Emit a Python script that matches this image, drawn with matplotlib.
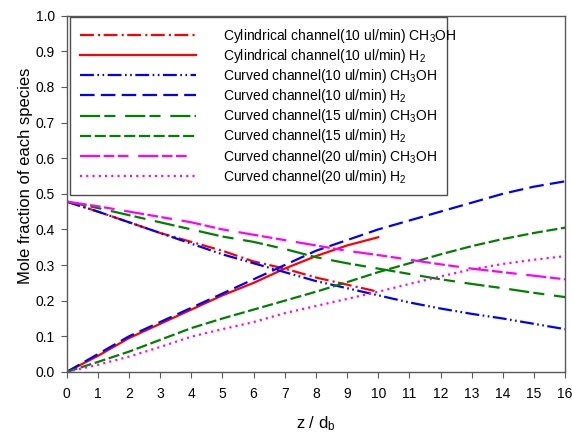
import matplotlib
matplotlib.use('Agg')
import matplotlib.pyplot as plt
from matplotlib.patches import Rectangle
import numpy as np

plt.rcParams['font.family'] = ['Liberation Sans', 'DejaVu Sans']
plt.rcParams['mathtext.default'] = 'regular'
plt.rcParams['lines.scale_dashes'] = False

# axial position z/d_b
z_cyl = [0, 1, 2, 3, 4, 5, 6, 7, 8, 9, 10]
z_cur = [0, 1, 2, 3, 4, 5, 6, 7, 8, 9, 10, 11, 12, 13, 14, 15, 16]

# cylindrical channel, 10 ul/min
cyl10_ch3oh = [0.478, 0.45, 0.42, 0.39, 0.365, 0.34, 0.31, 0.29, 0.265, 0.245, 0.225]
cyl10_h2 = [0.0, 0.045, 0.095, 0.135, 0.175, 0.215, 0.25, 0.29, 0.325, 0.355, 0.378]

# curved channel, 10 / 15 / 20 ul/min
cur10_ch3oh = [0.478, 0.45, 0.42, 0.39, 0.36, 0.33, 0.305, 0.28, 0.255, 0.235,
               0.215, 0.195, 0.178, 0.163, 0.15, 0.135, 0.12]
cur10_h2 = [0.0, 0.05, 0.10, 0.14, 0.18, 0.22, 0.26, 0.30, 0.34, 0.37,
            0.40, 0.425, 0.45, 0.475, 0.50, 0.52, 0.535]
cur15_ch3oh = [0.478, 0.46, 0.44, 0.42, 0.40, 0.38, 0.365, 0.345, 0.322, 0.305,
               0.29, 0.275, 0.26, 0.247, 0.235, 0.222, 0.21]
cur15_h2 = [0.0, 0.028, 0.057, 0.09, 0.123, 0.15, 0.175, 0.2, 0.225, 0.252,
            0.28, 0.305, 0.33, 0.353, 0.373, 0.39, 0.405]
cur20_ch3oh = [0.478, 0.465, 0.45, 0.435, 0.42, 0.40, 0.385, 0.37, 0.355, 0.34,
               0.328, 0.315, 0.302, 0.29, 0.28, 0.27, 0.26]
cur20_h2 = [0.0, 0.02, 0.043, 0.07, 0.099, 0.12, 0.14, 0.165, 0.185, 0.205,
            0.225, 0.247, 0.268, 0.288, 0.303, 0.315, 0.325]

fig = plt.figure(figsize=(5.72, 4.34), dpi=100)
ax = fig.add_axes([0.1166, 0.143, 0.8714, 0.821])

lw = 1.6
ax.plot(z_cyl, cyl10_ch3oh, color='red', lw=lw, dashes=(10, 3, 1.5, 2.5),
        label='Cylindrical channel(10 ul/min) CH$_3$OH')
ax.plot(z_cyl, cyl10_h2, color='red', lw=lw, ls='-',
        label='Cylindrical channel(10 ul/min) H$_2$')
ax.plot(z_cur, cur10_ch3oh, color='blue', lw=lw, dashes=(10, 2.5, 1.2, 2.5, 1.2, 2.5),
        label='Curved channel(10 ul/min) CH$_3$OH')
ax.plot(z_cur, cur10_h2, color='blue', lw=lw, dashes=(10.5, 4.5),
        label='Curved channel(10 ul/min) H$_2$')
ax.plot(z_cur, cur15_ch3oh, color='green', lw=lw, dashes=(14.5, 3, 8, 7),
        label='Curved channel(15 ul/min) CH$_3$OH')
ax.plot(z_cur, cur15_h2, color='green', lw=lw, dashes=(8, 2.6),
        label='Curved channel(15 ul/min) H$_2$')
ax.plot(z_cur, cur20_ch3oh, color='magenta', lw=lw, dashes=(14.5, 2.5, 7.7, 2.5, 7.7, 7),
        label='Curved channel(20 ul/min) CH$_3$OH')
ax.plot(z_cur, cur20_h2, color='magenta', lw=lw, dashes=(1.5, 3),
        label='Curved channel(20 ul/min) H$_2$')

ax.set_xlim(0, 16)
ax.set_ylim(0, 1.0)
ax.set_xticks(np.arange(0, 17, 1))
ax.set_yticks(np.arange(0, 1.01, 0.1))
ax.set_yticklabels(['%.1f' % v for v in np.arange(0, 1.01, 0.1)])
ax.tick_params(direction='out', length=4, width=0.8, color='0.35', labelsize=10)
ax.tick_params(axis='x', pad=6.5)
ax.tick_params(axis='y', pad=4.5)
for s in ax.spines.values():
    s.set_color('0.35')
    s.set_linewidth(1.0)

ax.set_xlabel('z / d$_b$', fontsize=12, labelpad=10)
ax.set_ylabel('Mole fraction of each species', fontsize=12)
ax.yaxis.set_label_coords(-0.067, 0.55)

leg = ax.legend(loc='upper left', bbox_to_anchor=(0.006, 0.996), borderaxespad=0,
                fontsize=10, handlelength=8.35, handletextpad=1.95,
                labelspacing=0.15, borderpad=0.72, frameon=False)
# mathtext pads the label widths, so the box is drawn by hand
ax.add_patch(Rectangle((0.0066, 0.497), 0.757, 0.5, transform=ax.transAxes,
                       facecolor='white', edgecolor='0.3', lw=1.0, zorder=4.9))
leg.set_zorder(5)

fig.savefig('out.png', dpi=100)
